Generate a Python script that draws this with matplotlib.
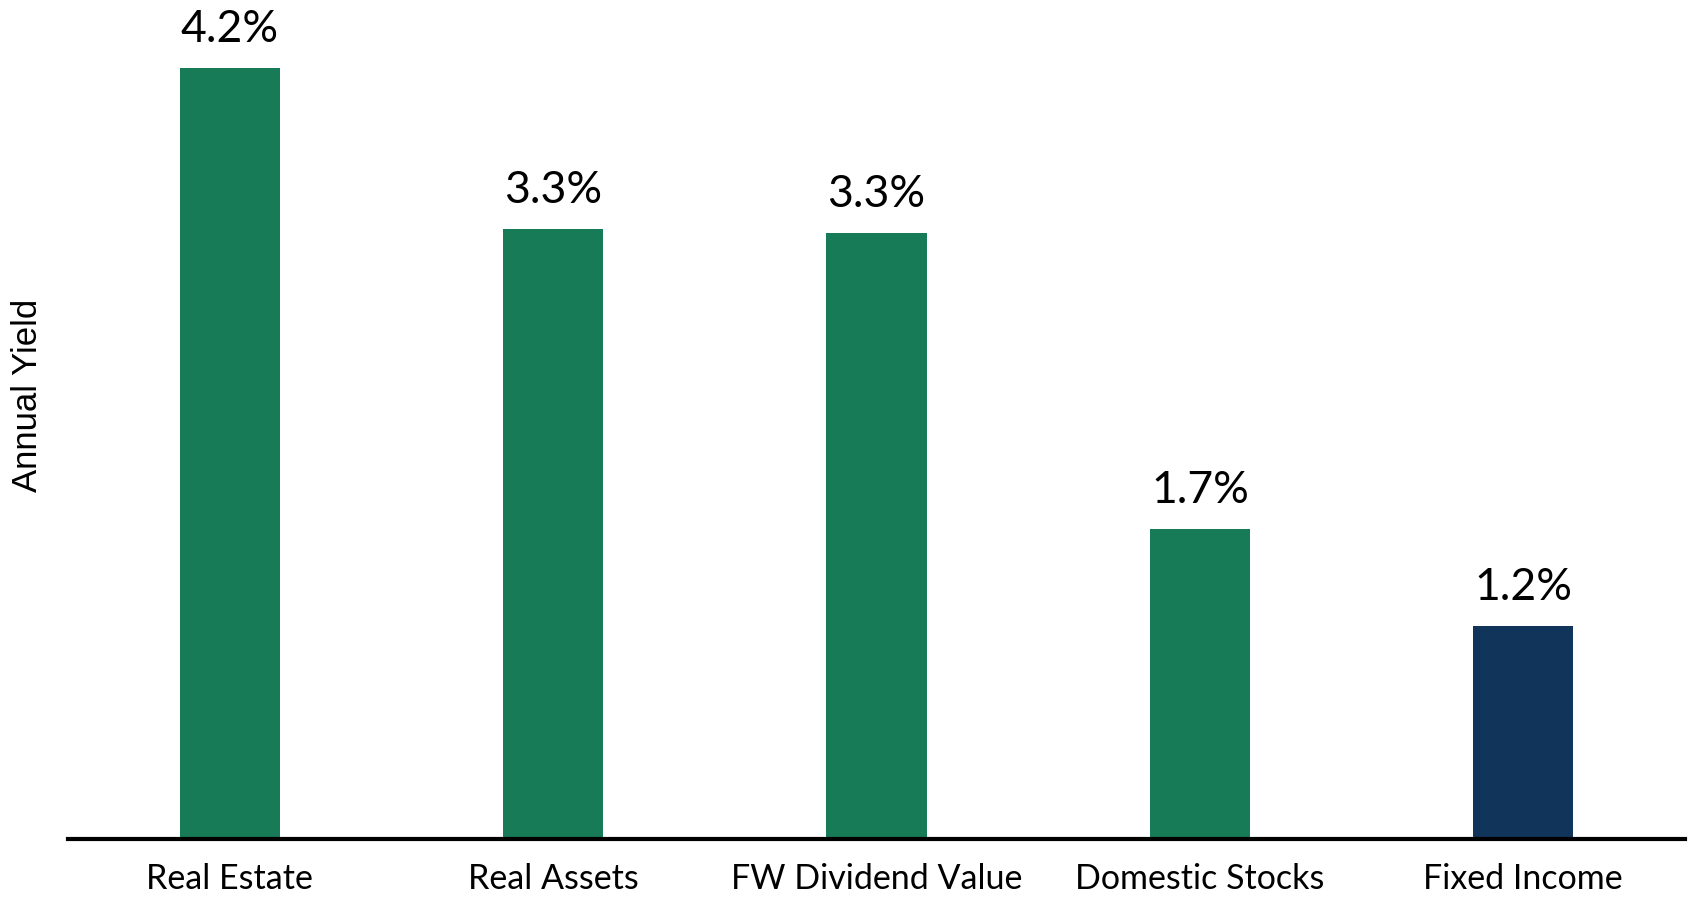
import matplotlib
matplotlib.use("Agg")
import matplotlib.pyplot as plt

categories = ["Real Estate", "Real Assets", "FW Dividend Value", "Domestic Stocks", "Fixed Income"]
values = [4.2, 3.32, 3.30, 1.69, 1.16]
labels = ["4.2%", "3.3%", "3.3%", "1.7%", "1.2%"]
colors = ["#177B57", "#177B57", "#177B57", "#177B57", "#11355A"]

fig = plt.figure(figsize=(16.88, 9.0), dpi=100)
ax = fig.add_axes([0.0403, 0.0678, 0.9579, 0.9322])

x = list(range(len(categories)))
bars = ax.bar(x, values, width=0.31, color=colors, zorder=2)
ax.set_xlim(-0.5, len(categories) - 0.5)
ax.set_ylim(0, 4.57)

for b, lab in zip(bars, labels):
    ax.annotate(lab, (b.get_x() + b.get_width() / 2, b.get_height()),
                xytext=(0, 13), textcoords="offset points",
                ha="center", va="bottom", fontsize=32, family="Lato", color="black")

ax.set_xticks(x)
ax.set_xticklabels(categories, fontsize=24.5, family="Lato")
ax.tick_params(axis="x", length=0, pad=17)
ax.set_yticks([])
for s in ["top", "right", "left"]:
    ax.spines[s].set_visible(False)
ax.spines["bottom"].set_linewidth(3)
ax.spines["bottom"].set_color("black")
ax.spines["bottom"].set_zorder(3)

fig.text(0.016, 0.561, "Annual Yield", rotation=90, ha="center", va="center",
         fontsize=25, family="Liberation Sans", color="black")

fig.savefig("out.png", dpi=100)
